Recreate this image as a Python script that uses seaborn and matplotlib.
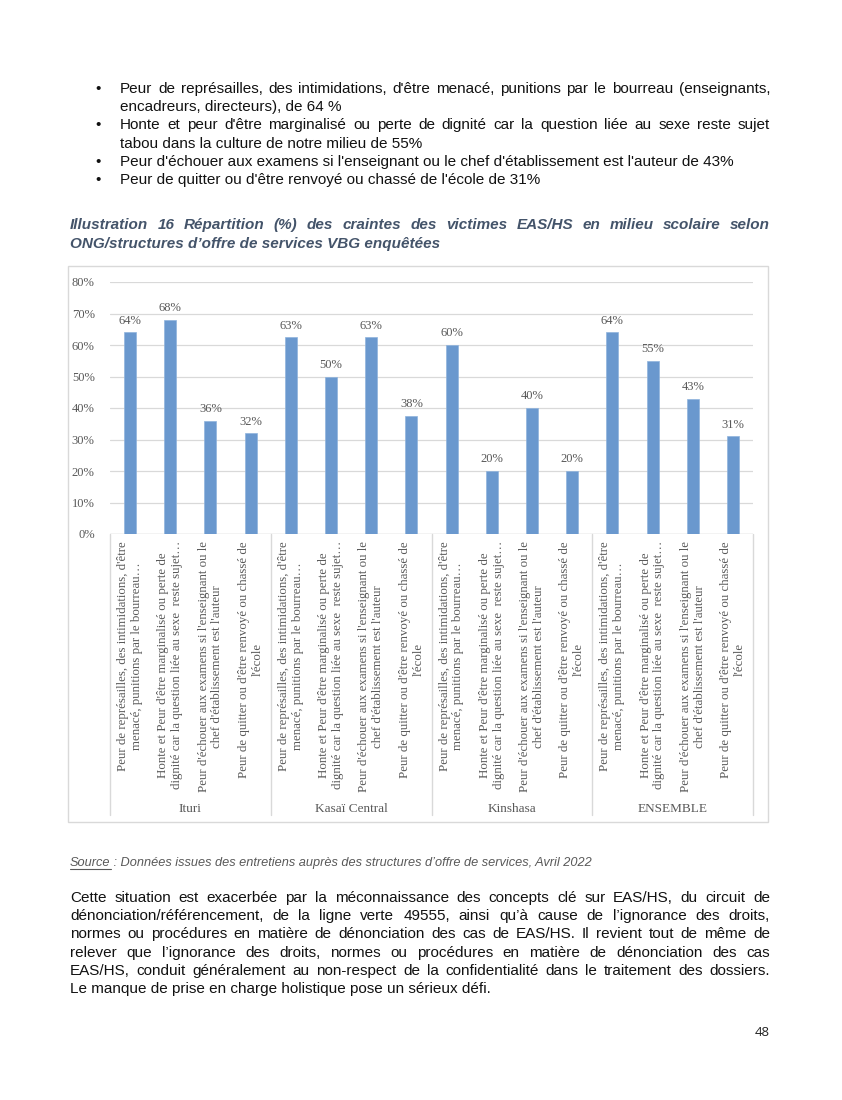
import numpy as np
import pandas as pd
import matplotlib
matplotlib.use("Agg")
import matplotlib.pyplot as plt
import seaborn as sns
from matplotlib.lines import Line2D
from matplotlib.patches import Rectangle

# ---------------- data ----------------
groups = ["Ituri", "Kasaï Central", "Kinshasa", "ENSEMBLE"]
craintes = [
    "Peur de représailles, des intimidations, d'être\nmenacé, punitions par le bourreau…",
    "Honte et Peur d'être marginalisé ou perte de\ndignité car la question liée au sexe  reste sujet…",
    "Peur d'échouer aux examens si l'enseignant ou le\nchef d'établissement est l'auteur",
    "Peur de quitter ou d'être renvoyé ou chassé de\nl'école",
]
ituri = [64, 68, 36, 32]
kasai_central = [62.5, 50, 62.5, 37.5]
kinshasa = [60, 20, 40, 20]
ensemble = [64, 55, 43, 31]
y_ticks = [0, 10, 20, 30, 40, 50, 60, 70, 80]

bullets = [
    ["Peur de représailles, des intimidations, d'être menacé, punitions par le bourreau (enseignants,",
     "encadreurs, directeurs), de 64 %"],
    ["Honte et peur d'être marginalisé ou perte de dignité car la question liée au sexe reste sujet",
     "tabou dans la culture de notre milieu de 55%"],
    ["Peur d'échouer aux examens si l'enseignant ou le chef d'établissement est l'auteur de 43%"],
    ["Peur de quitter ou d'être renvoyé ou chassé de l'école de 31%"],
]
title_lines = [
    "Illustration 16 Répartition (%) des craintes des victimes EAS/HS en milieu scolaire selon",
    "ONG/structures d’offre de services VBG enquêtées",
]
source_label = "Source"
source_rest = " : Données issues des entretiens auprès des structures d’offre de services, Avril 2022"
paragraph = [
    "Cette situation est exacerbée par la méconnaissance des concepts clé sur EAS/HS, du circuit de",
    "dénonciation/référencement, de la ligne verte 49555, ainsi qu’à cause de l’ignorance des droits,",
    "normes ou procédures en matière de dénonciation des cas de EAS/HS. Il revient tout de même de",
    "relever que l’ignorance des droits, normes ou procédures en matière de dénonciation des cas",
    "EAS/HS, conduit généralement au non-respect de la confidentialité dans le traitement des dossiers.",
    "Le manque de prise en charge holistique pose un sérieux défi.",
]
page_number = "48"

# ---------------- styling ----------------
W, H = 842, 1100
sns.set_theme(style="white")
plt.rcParams["font.family"] = ["Liberation Sans", "DejaVu Sans"]

BAR = "#6A98CE"
GRID = "#D9D9D9"
CHART_TXT = "#595959"
SERIF = ["Liberation Serif", "DejaVu Serif"]

fig = plt.figure(figsize=(W / 100, H / 100), dpi=100)
fig.patch.set_facecolor("white")
renderer = fig.canvas.get_renderer()


def fx(x):
    return x / W


def fy(y):
    return 1 - y / H


def place_line(text, x0, x1, y, justify, **kw):
    """y is the baseline position in pixels from the top."""
    if not justify:
        fig.text(fx(x0), fy(y), text, ha="left", va="baseline", **kw)
        return
    words = text.split(" ")
    ts = [fig.text(fx(x0), fy(y), w, ha="left", va="baseline", **kw) for w in words]
    widths = [t.get_window_extent(renderer).width for t in ts]
    gap = (x1 - x0 - sum(widths)) / max(len(words) - 1, 1)
    x = x0
    for t, w in zip(ts, widths):
        t.set_x(fx(x))
        x += w + gap


BODY = dict(fontsize=11, color="#111111")
LEFT, RIGHT = 70, 770
LINE = 18.2

# bullets (baselines)
y = 93
for item in bullets:
    fig.text(fx(95), fy(y), "•", ha="left", va="baseline", **BODY)
    for i, line in enumerate(item):
        place_line(line, 120, RIGHT, y, justify=(i < len(item) - 1), **BODY)
        y += LINE

# caption title
TITLE = dict(fontsize=11, color="#44546A", fontweight="bold", fontstyle="italic")
place_line(title_lines[0], LEFT, RIGHT, 229, True, **TITLE)
place_line(title_lines[1], LEFT, RIGHT, 248, False, **TITLE)

# ---------------- chart ----------------
ax_left, ax_right, ax_top, ax_bot = 110, 753, 282, 534
ax = fig.add_axes([fx(ax_left), fy(ax_bot), fx(ax_right - ax_left), (ax_bot - ax_top) / H])

df = pd.DataFrame({
    "groupe": np.repeat(groups, len(craintes)),
    "crainte": craintes * len(groups),
    "valeur": ituri + kasai_central + kinshasa + ensemble,
})
df["cle"] = df["groupe"] + " | " + df["crainte"]
order = list(df["cle"])

sns.barplot(data=df, x="cle", y="valeur", order=order, color=BAR, saturation=1,
            width=0.3, edgecolor="#8FB3DD", linewidth=0.5, ax=ax, zorder=3)

ax.set_ylim(0, 80)
ax.set_xlim(-0.5, len(order) - 0.5)
ax.set_yticks(y_ticks)
ax.set_yticklabels([f"{t}%" for t in y_ticks], fontfamily=SERIF, fontsize=9, color=CHART_TXT)
ax.yaxis.grid(True, color=GRID, linewidth=0.9, zorder=0)
ax.set_axisbelow(True)
for s in ax.spines.values():
    s.set_visible(False)
ax.tick_params(axis="both", length=0)
ax.tick_params(axis="y", pad=11)
ax.tick_params(axis="x", pad=5)
ax.set_xticks(range(len(order)))
ax.set_xticklabels(list(df["crainte"]), rotation=90, fontfamily=SERIF, fontsize=9.3,
                   color=CHART_TXT, linespacing=1.2)
ax.set_xlabel("")
ax.set_ylabel("")

labels = [f"{int(np.floor(v + 0.5))}%" for v in df["valeur"]]
ax.bar_label(ax.containers[0], labels=labels, padding=4, fontfamily=SERIF,
             fontsize=9, color=CHART_TXT)

# category axis: baseline and group separators
ax.axhline(0, color=GRID, linewidth=1.0, zorder=1)
axh = ax_bot - ax_top
sep_bottom = -(815 - ax_bot) / axh
trans = ax.get_xaxis_transform()
n = len(craintes)
for k in range(len(groups) + 1):
    xb = k * n - 0.5
    ax.add_line(Line2D([xb, xb], [0, sep_bottom], transform=trans, color=GRID,
                       linewidth=1.0, clip_on=False))
for k, g in enumerate(groups):
    ax.text(k * n + (n - 1) / 2, -(809 - ax_bot) / axh, g, transform=trans, ha="center",
            va="center", fontfamily=SERIF, fontsize=9.5, color=CHART_TXT)

# chart frame
fig.patches.append(Rectangle((fx(68), fy(822)), fx(768 - 68), (822 - 266) / H,
                             transform=fig.transFigure, fill=False, edgecolor=GRID,
                             linewidth=1.0))

# ---------------- source ----------------
SRC = dict(fontsize=9.2, color="#595959", fontstyle="italic")
t_src = fig.text(fx(LEFT), fy(866), source_label, ha="left", va="baseline", **SRC)
bb = t_src.get_window_extent(renderer)
fig.text(fx(LEFT + bb.width), fy(866), source_rest, ha="left", va="baseline", **SRC)
fig.lines.append(Line2D([fx(LEFT), fx(LEFT + bb.width)], [fy(868.5), fy(868.5)],
                        transform=fig.transFigure, color="#595959", linewidth=0.8))

# ---------------- paragraph ----------------
y = 902
for i, line in enumerate(paragraph):
    place_line(line, LEFT, RIGHT, y, justify=(i < len(paragraph) - 1), **BODY)
    y += LINE

fig.text(fx(762), fy(1036), page_number, ha="center", va="baseline",
         fontsize=9.5, color="#222222", fontfamily=["Open Sans", "DejaVu Sans"])

fig.savefig("out.png", dpi=100)
